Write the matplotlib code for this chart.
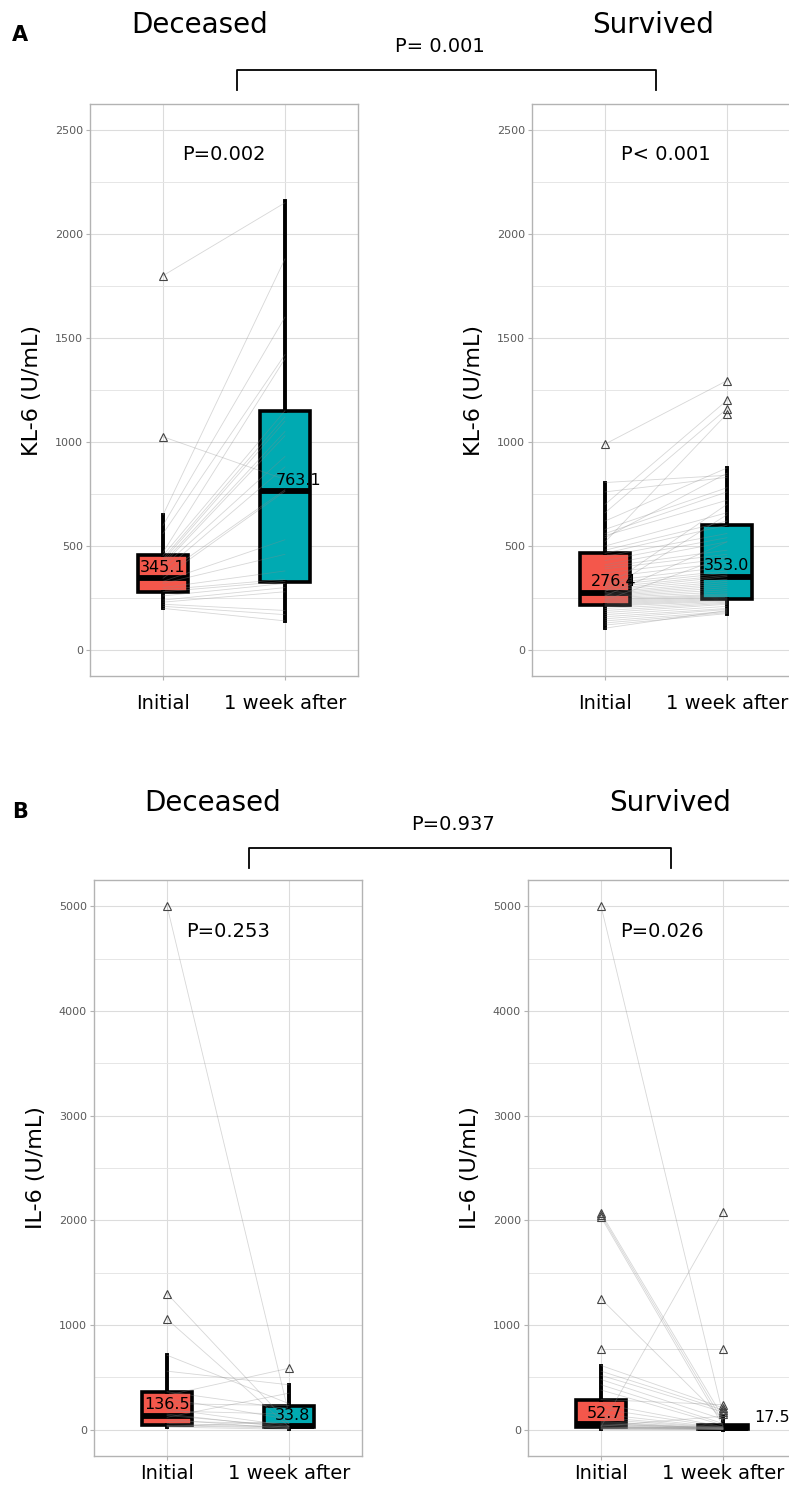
import matplotlib
matplotlib.use("Agg")
import matplotlib.pyplot as plt
from matplotlib.lines import Line2D
from matplotlib.ticker import MultipleLocator

plt.rcParams['font.family'] = ['DejaVu Sans']

W, H = 789, 1487
categories = ["Initial", "1 week after"]
group_titles = ["Deceased", "Survived"]

# ---------------- Data ----------------
# KL-6, Deceased: paired values (initial, 1 week after)
kl6_dec_initial = [1800, 1025, 650, 600, 560, 470, 455, 440, 430, 420, 410, 400, 380,
                   360, 345, 330, 320, 300, 290, 280, 260, 240, 230, 220, 210, 200]
kl6_dec_week = [2150, 820, 1880, 1600, 1420, 1400, 1150, 1120, 1100, 1050, 1030, 930, 880,
                770, 763, 530, 460, 380, 340, 330, 320, 300, 280, 190, 170, 140]
# KL-6, Survived
kl6_sur_initial = [990, 805, 760, 700, 660, 620, 580, 560, 550, 540, 520, 500, 480, 465,
                   450, 430, 410, 400, 390, 370, 350, 330, 320, 310, 300, 290, 285, 276,
                   270, 265, 260, 255, 250, 245, 240, 235, 230, 225, 220, 215, 210, 200,
                   190, 180, 170, 160, 150, 140, 130, 120, 105, 260, 300, 280, 240]
kl6_sur_week = [1295, 840, 830, 1200, 1160, 875, 780, 760, 720, 850, 1135, 660, 620, 600,
                560, 540, 520, 480, 460, 440, 420, 400, 380, 370, 360, 353, 340, 330,
                320, 310, 300, 290, 280, 270, 265, 260, 255, 250, 245, 240, 235, 230,
                225, 220, 210, 200, 195, 185, 180, 175, 190, 520, 700, 650, 450]
# IL-6, Deceased
il6_dec_initial = [5000, 1300, 1056, 712, 560, 363, 330, 300, 250, 200, 180, 150, 136.5,
                   120, 100, 80, 60, 45, 40, 30, 26]
il6_dec_week = [150, 60, 30, 250, 430, 200, 588, 100, 232, 40, 150, 20, 33.8,
                350, 10, 60, 30, 26, 15, 80, 5]
# IL-6, Survived
il6_sur_initial = [5000, 2070, 2050, 2030, 1250, 770, 614, 560, 520, 480, 430, 380, 288,
                   250, 200, 150, 120, 100, 80, 70, 60, 52.7, 45, 40, 35, 30, 28, 26,
                   20, 15, 10, 8, 5]
il6_sur_week = [150, 120, 80, 40, 100, 770, 210, 190, 170, 100, 60, 45, 240,
                30, 25, 20, 17.5, 15, 12, 10, 8, 20, 10, 5, 130, 2080, 5, 15,
                30, 8, 5, 20, 3]

# Box statistics [Initial, 1 week after]: whisker low, Q1, median, Q3, whisker high
kl6_dec_whislo = [200, 140]
kl6_dec_q1 = [280, 325]
kl6_dec_med = [345.1, 763.1]
kl6_dec_q3 = [455, 1150]
kl6_dec_whishi = [650, 2160]
kl6_dec_fliers = [[1025, 1800], []]

kl6_sur_whislo = [105, 175]
kl6_sur_q1 = [215, 245]
kl6_sur_med = [276.4, 353.0]
kl6_sur_q3 = [465, 600]
kl6_sur_whishi = [805, 875]
kl6_sur_fliers = [[990], [1135, 1160, 1200, 1295]]

il6_dec_whislo = [26, 5]
il6_dec_q1 = [45, 26]
il6_dec_med = [136.5, 33.8]
il6_dec_q3 = [363, 232]
il6_dec_whishi = [712, 427]
il6_dec_fliers = [[1056, 1300, 5000], [588]]

il6_sur_whislo = [5, 2]
il6_sur_q1 = [26, 8]
il6_sur_med = [52.7, 17.5]
il6_sur_q3 = [288, 45]
il6_sur_whishi = [614, 130]
il6_sur_fliers = [[770, 1250, 2030, 2050, 2070, 5000], [150, 170, 190, 210, 240, 770, 2080]]

p_within = ["P=0.002", "P< 0.001", "P=0.253", "P=0.026"]
p_between = ["P= 0.001", "P=0.937"]
ylabels = ["KL-6 (U/mL)", "IL-6 (U/mL)"]

# ---------------- Drawing ----------------
RED = "#F4574B"
TEAL = "#00AAB2"

fig = plt.figure(figsize=(W / 100, H / 100), dpi=100)


def add_axes_px(x0, y0, x1, y1):
    return fig.add_axes([x0 / W, 1 - y1 / H, (x1 - x0) / W, (y1 - y0) / H])


def panel(ax, init, week, whislo, q1, med, q3, whishi, fliers, ylim, major, ptxt,
          ylab, label_dx, ptxt_y, xpad):
    stats = []
    for i in range(2):
        stats.append(dict(whislo=whislo[i], q1=q1[i], med=med[i], q3=q3[i],
                          whishi=whishi[i], fliers=fliers[i]))
    bp = ax.bxp(stats, positions=[1, 2], widths=0.41, patch_artist=True,
                showcaps=False,
                boxprops=dict(linewidth=2.6, edgecolor="black"),
                whiskerprops=dict(linewidth=2.8, color="black"),
                medianprops=dict(linewidth=4.2, color="black", solid_capstyle="butt"),
                flierprops=dict(marker="^", markerfacecolor="none",
                                markeredgecolor="#444444", markersize=5.5,
                                markeredgewidth=0.8))
    for patch, c in zip(bp["boxes"], [RED, TEAL]):
        patch.set_facecolor(c)
        patch.set_zorder(2)
    for k in ("whiskers", "medians"):
        for a in bp[k]:
            a.set_zorder(2)
    for a in bp["fliers"]:
        a.set_zorder(4)
    for a, b in zip(init, week):
        ax.plot([1, 2], [a, b], color="#8C8C8C", alpha=0.35, lw=0.6, zorder=3)
    for i in range(2):
        ax.annotate(f"{med[i]:.1f}", (1 + i + label_dx[i], med[i]),
                    xytext=(0, 2.5), textcoords="offset points",
                    ha="center", va="bottom", fontsize=11.5, zorder=5)
    ax.set_xlim(0.4, 2.6)
    ax.set_ylim(*ylim)
    ax.yaxis.set_major_locator(MultipleLocator(major))
    ax.yaxis.set_minor_locator(MultipleLocator(major / 2))
    ax.grid(True, which="major", color="#DCDCDC", lw=0.8, zorder=0)
    ax.grid(True, which="minor", axis="y", color="#E6E6E6", lw=0.7, zorder=0)
    ax.set_axisbelow(True)
    ax.set_xticks([1, 2])
    ax.set_xticklabels(categories, fontsize=14)
    ax.tick_params(axis="x", length=3, color="#B3B3B3", pad=xpad)
    ax.tick_params(axis="y", which="major", length=3, color="#B3B3B3",
                   labelsize=8, labelcolor="#5A5A5A", pad=2)
    ax.tick_params(axis="y", which="minor", length=0)
    for s in ax.spines.values():
        s.set_color("#B3B3B3")
        s.set_linewidth(1.0)
    ax.set_ylabel(ylab, fontsize=16, labelpad=9)
    ax.text(1.5, ptxt_y, ptxt, ha="center", va="center", fontsize=14, zorder=5)


axA1 = add_axes_px(90, 104, 358, 676)
axA2 = add_axes_px(532, 104, 800, 676)
axB1 = add_axes_px(94, 880, 362, 1456)
axB2 = add_axes_px(528, 880, 796, 1456)

panel(axA1, kl6_dec_initial, kl6_dec_week, kl6_dec_whislo, kl6_dec_q1, kl6_dec_med,
      kl6_dec_q3, kl6_dec_whishi, kl6_dec_fliers, (-125, 2625), 500, p_within[0],
      ylabels[0], [0.0, 0.11], 2380, 10)
panel(axA2, kl6_sur_initial, kl6_sur_week, kl6_sur_whislo, kl6_sur_q1, kl6_sur_med,
      kl6_sur_q3, kl6_sur_whishi, kl6_sur_fliers, (-125, 2625), 500, p_within[1],
      ylabels[0], [0.07, 0.0], 2380, 10)
panel(axB1, il6_dec_initial, il6_dec_week, il6_dec_whislo, il6_dec_q1, il6_dec_med,
      il6_dec_q3, il6_dec_whishi, il6_dec_fliers, (-250, 5250), 1000, p_within[2],
      ylabels[1], [0.0, 0.03], 4760, 2.5)
panel(axB2, il6_sur_initial, il6_sur_week, il6_sur_whislo, il6_sur_q1, il6_sur_med,
      il6_sur_q3, il6_sur_whishi, il6_sur_fliers, (-250, 5250), 1000, p_within[3],
      ylabels[1], [0.03, 0.40], 4760, 2.5)


def ftext(x, y, s, **kw):
    fig.text(x / W, 1 - y / H, s, **kw)


def bracket(x0, x1, ytop, ybot):
    xs = [x0 / W, x0 / W, x1 / W, x1 / W]
    ys = [1 - ybot / H, 1 - ytop / H, 1 - ytop / H, 1 - ybot / H]
    fig.add_artist(Line2D(xs, ys, color="black", lw=1.3))


# Row A headers
ftext(20, 35, "A", fontsize=15, fontweight="bold", ha="center", va="center")
ftext(200, 25, group_titles[0], fontsize=20, ha="center", va="center")
ftext(653, 25, group_titles[1], fontsize=20, ha="center", va="center")
ftext(440, 46, p_between[0], fontsize=14, ha="center", va="center")
bracket(237, 656, 70, 90)

# Row B headers
ftext(20, 812, "B", fontsize=15, fontweight="bold", ha="center", va="center")
ftext(213, 803, group_titles[0], fontsize=20, ha="center", va="center")
ftext(670, 803, group_titles[1], fontsize=20, ha="center", va="center")
ftext(453, 824, p_between[1], fontsize=14, ha="center", va="center")
bracket(249, 671, 848, 868)

fig.savefig("out.png", dpi=100)
